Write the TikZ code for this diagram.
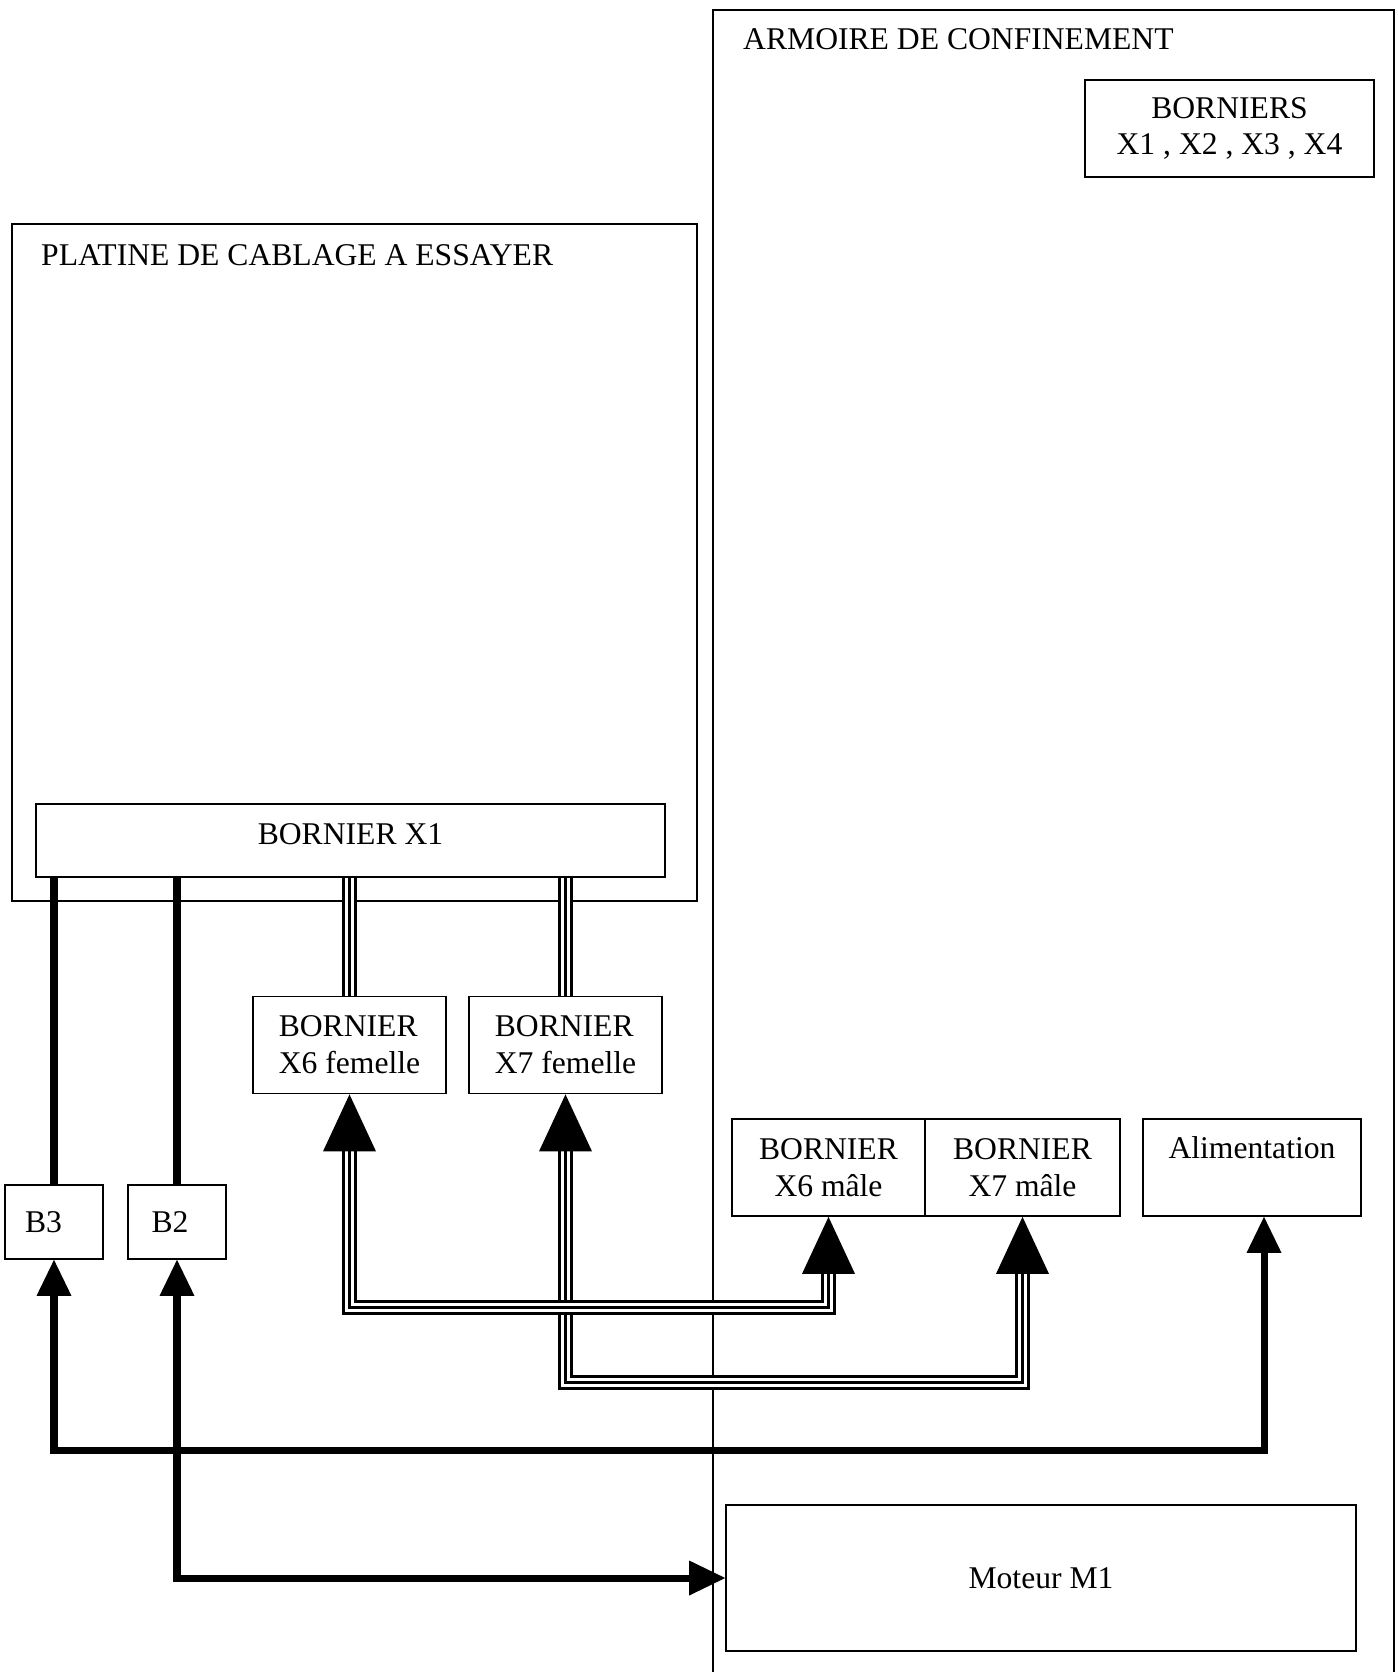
\documentclass[tikz,border=0pt]{standalone}
\usepackage{fontspec}
\setmainfont{Liberation Serif}
\usetikzlibrary{arrows.meta,calc}

\tikzset{
  every node/.append style={font=\fontsize{18}{21}\selectfont},
  box/.style={draw, line width=1pt, inner sep=0pt, align=center},
  wire/.style={line width=4pt},
  triple/.style={line width=8.6pt,
    postaction={draw, white, line width=4.8pt},
    postaction={draw, black, line width=2pt}},
  bigtip/.style={line width=0.5pt, -{Triangle[length=1.14cm, width=1.06cm, line width=0pt]}},
  tips/.style={{Triangle[length=0.72cm, width=0.7cm, line width=0pt]}-{Triangle[length=0.72cm, width=0.7cm, line width=0pt]}}
}

\begin{document}
\begin{tikzpicture}[x=0.02cm, y=-0.02cm]
    \useasboundingbox (0,0) rectangle (1398,1672);

    % Armoire de confinement
    \draw[line width=1pt] (713,1672) -- (713,10) -- (1394,10) -- (1394,1672);
    \node[anchor=west] (armoire) at (737,39) {ARMOIRE DE CONFINEMENT};
    \node[box, minimum width=5.78cm, minimum height=1.94cm] (borniers) at (1229.5,128.5) {BORNIERS\\X1 , X2 , X3 , X4};

    % Platine de cablage
    \draw[line width=1pt] (12,224) rectangle (697,901);
    \node[anchor=west] (platine) at (35,255) {PLATINE DE CABLAGE A ESSAYER};
    \node[box, text depth=7pt, minimum width=12.58cm, minimum height=1.46cm] (x1) at (350.5,840.5) {BORNIER X1};

    % Borniers femelle
    \node[box, align=left, minimum width=3.86cm, minimum height=1.94cm] (x6f) at (349.5,1045) {BORNIER\\X6 femelle};
    \node[box, align=left, minimum width=3.86cm, minimum height=1.94cm] (x7f) at (565.5,1045) {BORNIER\\X7 femelle};

    % Borniers male and alimentation
    \node[box, minimum width=3.86cm, minimum height=1.94cm] (x6m) at (828.5,1167.5) {BORNIER\\X6 mâle};
    \node[box, minimum width=3.9cm, minimum height=1.94cm] (x7m) at (1022.5,1167.5) {BORNIER\\X7 mâle};
    \node[box, minimum width=4.36cm, minimum height=1.94cm] (alim) at (1252,1167.5) {Alimentation\\[-4pt]\strut};

    % Capteurs and moteur
    \node[box, minimum width=1.96cm, minimum height=1.48cm] (b3) at (54,1222) {B3\hspace{12pt}};
    \node[box, minimum width=1.96cm, minimum height=1.48cm] (b2) at (177,1222) {B2\hspace{8pt}};
    \node[box, minimum width=12.6cm, minimum height=2.92cm] (moteur) at (1041,1578) {Moteur M1};

    % Liaisons X1
    \draw[wire] (b3.north) -- (b3.north |- x1.south);
    \draw[wire] (b2.north) -- (b2.north |- x1.south);
    \draw[triple] (x6f.north) -- (x6f.north |- x1.south);
    \draw[triple] (x7f.north) -- (x7f.north |- x1.south);

    % Liaisons X6 / X7
    \coordinate (x6fin) at ($(x6f.south)+(0,57)$);
    \coordinate (x7fin) at ($(x7f.south)+(0,57)$);
    \coordinate (x6min) at ($(x6m.south)+(0,55)$);
    \coordinate (x7min) at ($(x7m.south)+(0,55)$);
    \draw[triple] (x7fin) -- ++(0,231) -| (x7min);
    \draw[triple] (x6fin) -- ++(0,156) -| (x6min);
    \draw[bigtip] (x6fin) -- (x6f.south);
    \draw[bigtip] (x7fin) -- (x7f.south);
    \draw[bigtip] (x6min) -- (x6m.south);
    \draw[bigtip] (x7min) -- (x7m.south);

    % Liaisons B3 / B2
    \coordinate (alimtip) at ($(alim.south)+(12,0)$);
    \draw[wire, tips] (b3.south) -- ++(0,191) -| (alimtip);
    \draw[wire, tips] (b2.south) |- (moteur.west);
\end{tikzpicture}
\end{document}
